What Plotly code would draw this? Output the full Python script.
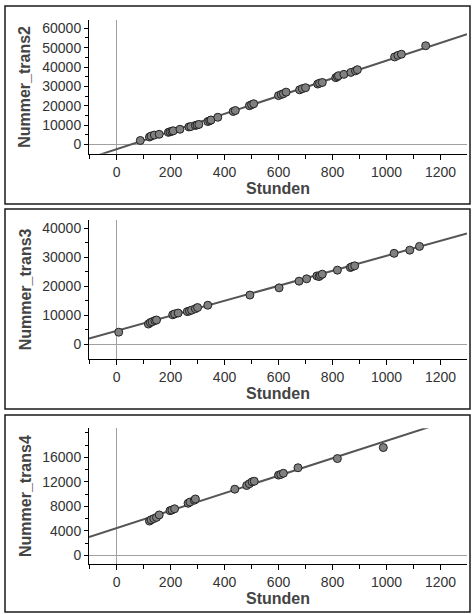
import plotly.graph_objects as go
import numpy as np

W, H = 472, 614

# ---- data ----
stunden_2 = [88, 122, 128, 140, 158, 192, 198, 205, 210, 235, 268, 275, 292, 298, 305, 338, 345, 350,
             375, 432, 440, 492, 500, 508, 600, 610, 618, 628, 678, 688, 700, 745, 752, 762, 812, 818,
             822, 842, 868, 885, 892, 1030, 1042, 1055, 1145]
nummer_trans2 = [2000, 3800, 4300, 4800, 5200, 6200, 6500, 6800, 7000, 7800, 9000, 9200, 9800, 10000,
                 10300, 11800, 12200, 12600, 14000, 17000, 17500, 20000, 20500, 21000, 25200, 25800,
                 26200, 27000, 28200, 28800, 29300, 31200, 31600, 32000, 34500, 35000, 35500, 36200,
                 37200, 38000, 38600, 45200, 46000, 46600, 51000]

stunden_3 = [8, 118, 125, 132, 142, 148, 208, 215, 228, 262, 270, 278, 292, 300, 338, 494, 602, 676,
             704, 742, 750, 755, 762, 818, 866, 872, 882, 1028, 1086, 1122]
nummer_trans3 = [4200, 7000, 7500, 7800, 8200, 8400, 10200, 10500, 10800, 11300, 11500, 11800, 12300,
                 12700, 13500, 17000, 19500, 21800, 22600, 23600, 23400, 23800, 24200, 25600, 26500,
                 26800, 27100, 31400, 32500, 33800]

stunden_4 = [122, 128, 138, 148, 158, 198, 205, 215, 265, 272, 288, 292, 438, 482, 492, 502, 510, 600,
             608, 618, 672, 818, 988]
nummer_trans4 = [5600, 5800, 6000, 6200, 6600, 7300, 7400, 7600, 8500, 8700, 9000, 9200, 10800, 11400,
                 11700, 12000, 12100, 13100, 13200, 13400, 14300, 15800, 17600]

# fitted lines (slope, intercept)
fit_2 = (45.8, -2500)
fit_3 = (25.9, 4660)
fit_4 = (14.24, 4460)

x_range = [-102, 1298]
x_tickvals = [0, 200, 400, 600, 800, 1000, 1200]
y_ranges = [[-4830, 64300], [-4950, 42900], [-1360, 20740]]
y_tickvals = [[0, 10000, 20000, 30000, 40000, 50000, 60000],
              [0, 10000, 20000, 30000, 40000],
              [0, 4000, 8000, 12000, 16000]]
y_minor = [5000, 5000, 2000]
y_titles = ["Nummer_trans2", "Nummer_trans3", "Nummer_trans4"]
x_title = "Stunden"

# plot areas in pixels: (top, bottom)
areas = [(20, 153.7), (220, 358.7), (428.3, 563.7)]
panels = [(6, 204), (209, 409), (415, 612)]
px_left, px_right = 89, 467

datasets = [(stunden_2, nummer_trans2, fit_2), (stunden_3, nummer_trans3, fit_3),
            (stunden_4, nummer_trans4, fit_4)]

fig = go.Figure()
font_tick = dict(family="Liberation Sans, Arial, sans-serif", size=14, color="#333")
font_title = dict(family="Liberation Sans, Arial, sans-serif", size=16, color="#444")

for i, (xs, ys, (m, b)) in enumerate(datasets):
    sfx = "" if i == 0 else str(i + 1)
    xa, ya = "x" + sfx, "y" + sfx
    lx = np.array(x_range, dtype=float)
    fig.add_trace(go.Scatter(x=lx, y=m * lx + b, mode="lines",
                             line=dict(color="#555", width=2), xaxis=xa, yaxis=ya,
                             showlegend=False, hoverinfo="skip"))
    fig.add_trace(go.Scatter(x=xs, y=ys, mode="markers",
                             marker=dict(size=8, color="#808080", line=dict(color="#222", width=1)),
                             xaxis=xa, yaxis=ya, showlegend=False, cliponaxis=True))
    top, bot = areas[i]
    ydom = [1 - bot / H, 1 - top / H]
    xdom = [px_left / W, px_right / W]
    fig.layout["xaxis" + sfx] = dict(
        domain=xdom, range=x_range, anchor=ya, showline=True, linecolor="black", linewidth=1,
        ticks="outside", ticklen=5, tickcolor="black", tickmode="array", tickvals=x_tickvals,
        tickformat="d",
        minor=dict(ticks="outside", ticklen=4, tickcolor="black", dtick=100, tick0=0),
        showgrid=False, zeroline=True, zerolinecolor="#a0a0a0", zerolinewidth=1,
        tickfont=font_tick, fixedrange=True, automargin=False)
    fig.layout["yaxis" + sfx] = dict(
        domain=ydom, range=y_ranges[i], anchor=xa, showline=True, linecolor="black", linewidth=1,
        ticks="outside", ticklen=4, tickcolor="black", tickmode="array", tickvals=y_tickvals[i],
        tickformat="d",
        minor=dict(ticks="outside", ticklen=3, tickcolor="black", dtick=y_minor[i], tick0=0),
        showgrid=False, zeroline=True, zerolinecolor="#a0a0a0", zerolinewidth=1,
        tickfont=font_tick, fixedrange=True, automargin=False)
    # axis titles
    fig.add_annotation(text="<b>" + y_titles[i] + "</b>", xref="paper", yref="paper",
                       x=25 / W, y=1 - (top + bot) / 2 / H, textangle=-90, showarrow=False,
                       xanchor="center", yanchor="middle", font=font_title)
    fig.add_annotation(text="<b>" + x_title + "</b>", xref="paper", yref="paper",
                       x=(px_left + px_right) / 2 / W, y=1 - (bot + 34.5) / H, showarrow=False,
                       xanchor="center", yanchor="middle", font=font_title)
    p0, p1 = panels[i]
    fig.add_shape(type="rect", xref="paper", yref="paper", x0=5 / W, x1=470 / W,
                  y0=1 - p1 / H, y1=1 - p0 / H, line=dict(color="#1a1a1a", width=1.5))

fig.update_layout(width=W, height=H, margin=dict(l=0, r=0, t=0, b=0),
                  paper_bgcolor="white", plot_bgcolor="white", showlegend=False)
fig.write_html("out.html", config={"displayModeBar": False},
               post_script="document.body.style.margin='0';document.body.style.overflow='hidden';")
